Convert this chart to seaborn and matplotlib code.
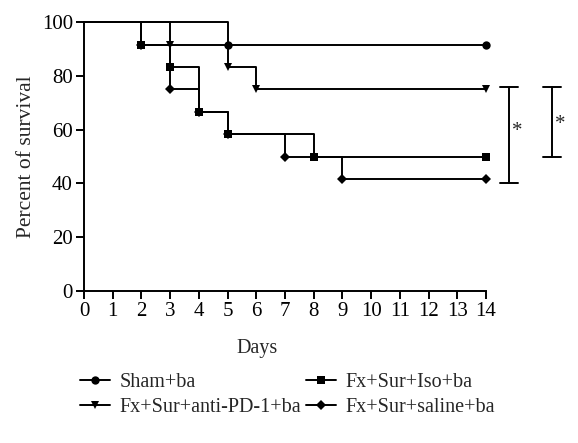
import numpy as np
import pandas as pd
import matplotlib
matplotlib.use("Agg")
import matplotlib.pyplot as plt
from matplotlib.lines import Line2D
import seaborn as sns

# Kaplan-Meier step data (day of event, percent surviving after it)
sham_days = [0, 5, 14]
sham_surv = [100, 91.67, 91.67]

pd1_days = [0, 3, 5, 6, 14]
pd1_surv = [100, 91.67, 83.33, 75, 75]

iso_days = [0, 2, 3, 4, 5, 8, 14]
iso_surv = [100, 91.67, 83.33, 66.67, 58.33, 50, 50]

saline_days = [0, 2, 3, 4, 5, 7, 9, 14]
saline_surv = [100, 91.67, 75, 66.67, 58.33, 50, 41.67, 41.67]

groups = ["Sham+ba", "Fx+Sur+anti-PD-1+ba", "Fx+Sur+Iso+ba", "Fx+Sur+saline+ba"]
markers = {"Sham+ba": "o", "Fx+Sur+anti-PD-1+ba": "v",
           "Fx+Sur+Iso+ba": "s", "Fx+Sur+saline+ba": "D"}
msizes = {"Sham+ba": 6, "Fx+Sur+anti-PD-1+ba": 6,
          "Fx+Sur+Iso+ba": 6, "Fx+Sur+saline+ba": 5}

# significance brackets: (x position, low, high, star y)
brackets = [(14.8, 40, 75.8, 59.5), (16.3, 49.8, 75.8, 62)]

df = pd.concat([
    pd.DataFrame({"day": sham_days, "surv": sham_surv, "group": "Sham+ba"}),
    pd.DataFrame({"day": pd1_days, "surv": pd1_surv, "group": "Fx+Sur+anti-PD-1+ba"}),
    pd.DataFrame({"day": iso_days, "surv": iso_surv, "group": "Fx+Sur+Iso+ba"}),
    pd.DataFrame({"day": saline_days, "surv": saline_surv, "group": "Fx+Sur+saline+ba"}),
])

sns.set_style("ticks")
plt.rcParams["font.family"] = ["Liberation Serif", "DejaVu Serif"]

fig = plt.figure(figsize=(5.78, 4.43), dpi=100)
ax = fig.add_axes([0.1453, 0.343, 0.6955, 0.607])

# draw saline first so the others sit on top of shared segments
for g in ["Fx+Sur+saline+ba", "Fx+Sur+Iso+ba", "Fx+Sur+anti-PD-1+ba", "Sham+ba"]:
    sub = df[df["group"] == g]
    sns.lineplot(data=sub, x="day", y="surv", ax=ax, color="black", linewidth=1.4,
                 drawstyle="steps-post", marker=markers[g], markersize=msizes[g],
                 markevery=slice(1, None), markeredgewidth=0, clip_on=False,
                 estimator=None, sort=False, legend=False)

for x, lo, hi, sy in brackets:
    ax.plot([x, x], [lo, hi], color="black", lw=1.4, clip_on=False)
    ax.plot([x - 0.3, x + 0.3], [lo, lo], color="black", lw=1.4, clip_on=False)
    ax.plot([x - 0.3, x + 0.3], [hi, hi], color="black", lw=1.4, clip_on=False)
    ax.text(x + 0.3, sy, "*", fontsize=15, ha="center", va="center", clip_on=False)

ax.set_xlim(0, 14)
ax.set_ylim(0, 100)
ax.set_xticks(range(0, 15))
ax.set_yticks(range(0, 101, 20))
sns.despine(ax=ax)
for s in ["left", "bottom"]:
    ax.spines[s].set_linewidth(1.4)
    ax.spines[s].set_color("black")
ax.tick_params(axis="both", direction="out", length=6, width=1.4, color="black",
               labelsize=15, pad=2, labelcolor="black")
ax.set_xlabel("Days", fontsize=14.5)
ax.xaxis.set_label_coords(0.43, -0.18)
ax.set_ylabel("Percent of survival", fontsize=15.5, labelpad=4)

handles = [Line2D([], [], color="black", lw=1.4, marker=markers[g],
                  markersize=msizes[g], markeredgewidth=0) for g in groups]
fig.legend(handles, groups, loc="upper center", bbox_to_anchor=(0.497, 0.2),
           ncol=2, frameon=False, fontsize=14.5, handlelength=1.5,
           columnspacing=0.25, handletextpad=0.45, labelspacing=0.3)

fig.savefig("out.png", dpi=100)
